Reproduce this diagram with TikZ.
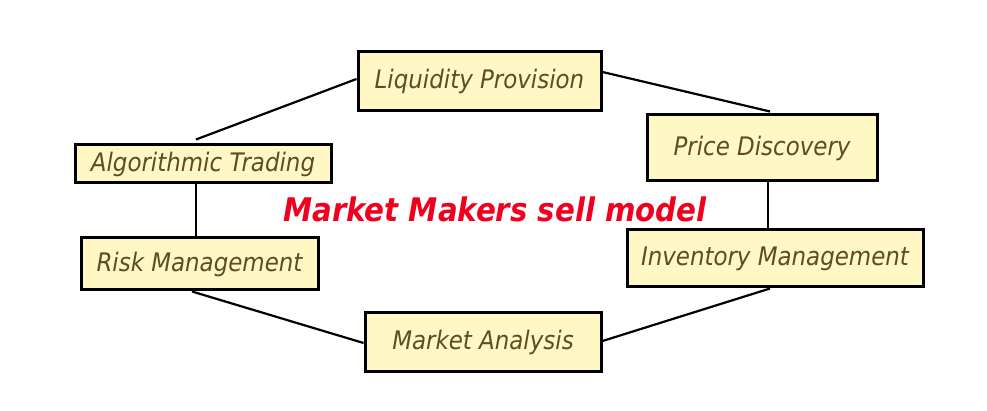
\documentclass[tikz,border=0pt]{standalone}
\usepackage{fontspec}
\newfontfamily\boxfont{DejaVu Sans Condensed}
\definecolor{boxfill}{RGB}{255,247,196}
\definecolor{boxtext}{RGB}{88,80,30}
\definecolor{titlered}{RGB}{240,0,30}
\begin{document}
\begin{tikzpicture}[x=1pt,y=-1pt,
  mbox/.style={draw=black,line width=3pt,fill=boxfill,inner sep=0pt,
    text=boxtext,font=\boxfont\itshape\fontsize{25.5}{30}\selectfont},
  link/.style={draw=black,line width=2.2pt}]
\useasboundingbox (0,0) rectangle (987,411);
\node[mbox,minimum width=243pt,minimum height=59pt] (lp) at (479.5,81.5) {Liquidity Provision};
\node[mbox,minimum width=230pt,minimum height=66pt] (pd) at (762,148) {Price Discovery};
\node[mbox,minimum width=256pt,minimum height=38pt] (algo) at (203,164) {Algorithmic Trading};
\node[mbox,minimum width=237pt,minimum height=52pt] (risk) at (199.5,264) {Risk Management};
\node[mbox,minimum width=296pt,minimum height=57pt] (inv) at (775,258.5) {Inventory Management};
\node[mbox,minimum width=236pt,minimum height=58pt] (ma) at (483,342) {Market Analysis};
\node[text=titlered,font=\boxfont\bfseries\itshape\fontsize{32.5}{38}\selectfont] (title) at (495,209) {Market Makers sell model};
\draw[link] ([xshift=-7pt,yshift=4pt]algo.north) -- ([yshift=2.5pt]lp.west);
\draw[link] ([yshift=9.5pt]lp.east) -- ([xshift=8pt,yshift=2pt]pd.north);
\draw[link] ([xshift=6pt]pd.south) -- ([xshift=-7pt]inv.north);
\draw[link] ([xshift=-7pt]algo.south) -- ([xshift=-3.5pt]risk.north);
\draw[link] ([xshift=-7.5pt]risk.south) -- ([yshift=-1pt]ma.west);
\draw[link] ([yshift=1pt]ma.east) -- ([xshift=-5pt]inv.south);
\end{tikzpicture}
\end{document}
